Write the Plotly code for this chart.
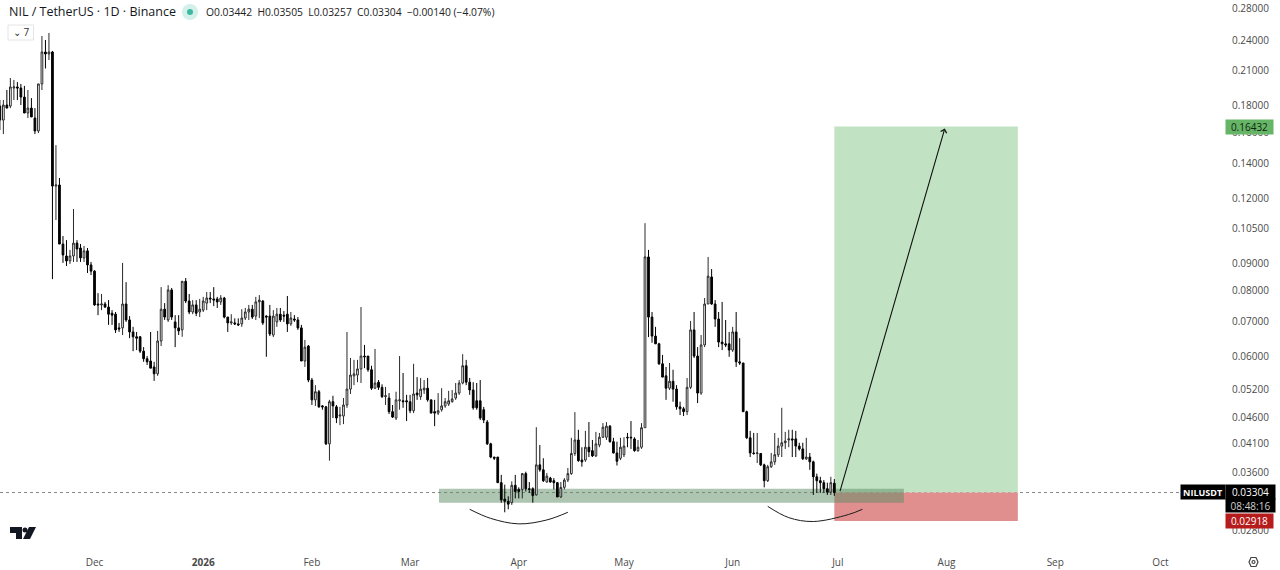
import math
import pandas as pd
import plotly.graph_objects as go

# daily candles, first one is 2025-11-04, last one 2026-06-30
opens = [
    .1798,.1691,.1806,.1798,.1946,.1955,.1946,.1870,.1744,.1782,
    .1706,.1612,.1981,.2279,.2259,.2279,.1266,.1272,.0982,.0932,
    .0912,.0932,.0986,.0965,.0924,.0953,.0896,.0872,.0755,.0752,
    .0755,.0745,.0725,.0722,.0680,.0680,.0755,.0704,.0668,.0654,
    .0654,.0614,.0594,.0588,.0573,.0556,.0642,.0738,.0704,.0803,
    .0698,.0680,.0674,.0834,.0765,.0729,.0752,.0729,.0735,.0758,
    .0775,.0772,.0772,.0762,.0775,.0713,.0695,.0695,.0692,.0692,
    .0710,.0729,.0738,.0716,.0762,.0765,.0716,.0716,.0659,.0698,
    .0722,.0719,.0722,.0692,.0707,.0704,.0680,.0588,.0628,.0541,
    .0496,.0514,.0483,.0481,.0409,.0492,.0481,.0462,.0462,.0485,
    .0520,.0551,.0553,.0568,.0601,.0601,.0566,.0522,.0536,.0524,
    .0503,.0500,.0471,.0458,.0494,.0494,.0494,.0492,.0473,.0511,
    .0503,.0518,.0522,.0496,.0471,.0468,.0475,.0483,.0487,.0492,
    .0500,.0511,.0534,.0576,.0536,.0518,.0494,.0494,.0475,.0450,
    .0409,.0386,.0386,.0345,.0321,.0318,.0316,.0341,.0335,.0335,
    .0359,.0336,.0336,.0327,.0373,.0365,.0346,.0352,.0348,.0345,
    .0324,.0338,.0349,.0359,.0392,.0416,.0381,.0381,.0403,.0397,
    .0388,.0407,.0421,.0421,.0442,.0413,.0393,.0384,.0390,.0421,
    .0421,.0418,.0397,.0403,.0439,.0928,.0713,.0656,.0634,.0581,
    .0551,.0522,.0538,.0520,.0481,.0477,.0471,.0524,.0674,.0601,
    .0511,.0631,.0755,.0850,.0755,.0707,.0639,.0634,.0634,.0617,
    .0668,.0586,.0583,.0471,.0420,.0393,.0392,.0392,.0373,.0348,
    .0370,.0378,.0390,.0405,.0411,.0416,.0418,.0418,.0405,.0400,
    .0383,.0386,.0378,.0354,.0348,.0345,.0336,.0331,.03442,
]
highs = [
    .1846,.1846,.1929,.2033,.2016,.1998,.1981,.1964,.1929,.1862,
    .1782,.1981,.2444,.2402,.2477,.2289,.1515,.1312,.1017,.0999,
    .0957,.1145,.0999,.0982,.0974,.0965,.0908,.0876,.0792,.0789,
    .0762,.0768,.0735,.0729,.0695,.0904,.0831,.0716,.0683,.0668,
    .0656,.0625,.0601,.0668,.0586,.0671,.0813,.0758,.0820,.0810,
    .0719,.0719,.0834,.0846,.0789,.0768,.0768,.0772,.0779,.0796,
    .0796,.0813,.0779,.0785,.0779,.0713,.0722,.0709,.0709,.0738,
    .0742,.0752,.0752,.0779,.0785,.0768,.0719,.0752,.0735,.0742,
    .0742,.0732,.0782,.0729,.0719,.0713,.0689,.0645,.0631,.0546,
    .0529,.0518,.0485,.0483,.0496,.0505,.0485,.0481,.0500,.0668,
    .0596,.0591,.0591,.0745,.0631,.0601,.0576,.0620,.0541,.0531,
    .0525,.0511,.0485,.0514,.0601,.0558,.0507,.0507,.0581,.0548,
    .0546,.0541,.0546,.0496,.0496,.0511,.0522,.0500,.0516,.0518,
    .0534,.0541,.0606,.0591,.0546,.0536,.0534,.0541,.0481,.0454,
    .0411,.0386,.0386,.0357,.0342,.0325,.0347,.0357,.0338,.0360,
    .0362,.0346,.0338,.0440,.0407,.0384,.0360,.0354,.0352,.0346,
    .0346,.0352,.0368,.0420,.0470,.0435,.0403,.0433,.0450,.0416,
    .0431,.0429,.0448,.0450,.0444,.0420,.0413,.0420,.0421,.0429,
    .0452,.0421,.0416,.0448,.1076,.0957,.0729,.0683,.0637,.0604,
    .0573,.0583,.0566,.0529,.0492,.0481,.0546,.0701,.0729,.0625,
    .0659,.0775,.0928,.0880,.0768,.0729,.0762,.0704,.0668,.0683,
    .0729,.0650,.0583,.0473,.0433,.0429,.0429,.0393,.0375,.0373,
    .0393,.0429,.0420,.0479,.0431,.0435,.0435,.0433,.0411,.0411,
    .0420,.0393,.0380,.0359,.0354,.0349,.0345,.0354,.03505,
]
lows = [
    .1619,.1590,.1782,.1782,.1846,.1846,.1806,.1744,.1706,.1714,
    .1590,.1597,.1929,.2120,.2200,.0842,.1091,.0982,.0904,.0892,
    .0900,.0908,.0908,.0908,.0908,.0865,.0857,.0749,.0719,.0735,
    .0742,.0689,.0689,.0665,.0668,.0659,.0698,.0650,.0614,.0617,
    .0609,.0586,.0578,.0570,.0539,.0551,.0628,.0704,.0698,.0704,
    .0625,.0659,.0654,.0758,.0722,.0722,.0716,.0713,.0729,.0735,
    .0758,.0748,.0742,.0752,.0709,.0668,.0689,.0689,.0686,.0683,
    .0704,.0704,.0707,.0704,.0710,.0689,.0599,.0656,.0653,.0683,
    .0698,.0698,.0668,.0686,.0698,.0674,.0588,.0573,.0536,.0485,
    .0483,.0479,.0475,.0407,.0380,.0458,.0448,.0444,.0446,.0479,
    .0509,.0529,.0536,.0534,.0570,.0561,.0518,.0520,.0518,.0500,
    .0485,.0466,.0458,.0454,.0475,.0479,.0452,.0468,.0468,.0496,
    .0496,.0509,.0492,.0468,.0442,.0464,.0471,.0479,.0483,.0490,
    .0496,.0507,.0531,.0529,.0507,.0475,.0475,.0454,.0448,.0407,
    .0384,.0381,.0345,.0316,.0303,.0307,.0313,.0322,.0322,.0322,
    .0332,.0330,.0316,.0326,.0362,.0346,.0345,.0345,.0335,.0324,
    .0323,.0335,.0346,.0357,.0388,.0378,.0370,.0378,.0386,.0386,
    .0386,.0403,.0420,.0416,.0411,.0392,.0372,.0381,.0386,.0403,
    .0400,.0395,.0395,.0400,.0439,.0653,.0637,.0634,.0578,.0548,
    .0496,.0518,.0492,.0475,.0464,.0462,.0464,.0520,.0596,.0489,
    .0507,.0625,.0755,.0752,.0683,.0625,.0617,.0625,.0599,.0612,
    .0573,.0578,.0471,.0418,.0386,.0390,.0376,.0371,.0338,.0346,
    .0368,.0373,.0386,.0386,.0400,.0403,.0386,.0386,.0397,.0381,
    .0381,.0365,.0327,.0330,.0330,.0330,.0327,.0327,.03257,
]
closes = [
    .1691,.1806,.1782,.1955,.1955,.1946,.1870,.1744,.1782,.1714,
    .1612,.1981,.2279,.2259,.2279,.1266,.1272,.0982,.0936,.0912,
    .0932,.0986,.0961,.0924,.0953,.0896,.0872,.0752,.0752,.0755,
    .0745,.0722,.0719,.0674,.0677,.0755,.0704,.0668,.0654,.0650,
    .0614,.0594,.0586,.0570,.0556,.0642,.0738,.0713,.0803,.0713,
    .0680,.0671,.0834,.0765,.0729,.0752,.0725,.0738,.0765,.0775,
    .0772,.0768,.0762,.0775,.0713,.0695,.0698,.0692,.0689,.0710,
    .0729,.0738,.0713,.0762,.0768,.0695,.0713,.0662,.0716,.0722,
    .0704,.0716,.0692,.0710,.0704,.0680,.0588,.0625,.0541,.0496,
    .0514,.0481,.0481,.0409,.0492,.0483,.0458,.0464,.0485,.0520,
    .0553,.0556,.0568,.0601,.0599,.0566,.0522,.0534,.0524,.0503,
    .0505,.0471,.0460,.0496,.0496,.0492,.0492,.0473,.0509,.0507,
    .0520,.0522,.0496,.0468,.0468,.0473,.0483,.0492,.0494,.0498,
    .0511,.0534,.0576,.0536,.0518,.0479,.0479,.0458,.0454,.0409,
    .0386,.0384,.0345,.0320,.0318,.0314,.0341,.0332,.0332,.0359,
    .0336,.0335,.0326,.0373,.0365,.0348,.0355,.0346,.0345,.0324,
    .0338,.0349,.0359,.0392,.0416,.0380,.0378,.0403,.0395,.0388,
    .0409,.0421,.0440,.0442,.0413,.0393,.0379,.0403,.0405,.0420,
    .0420,.0397,.0403,.0439,.0928,.0713,.0656,.0634,.0581,.0548,
    .0522,.0538,.0520,.0481,.0477,.0471,.0524,.0674,.0601,.0511,
    .0631,.0755,.0853,.0755,.0707,.0639,.0634,.0631,.0617,.0668,
    .0586,.0583,.0471,.0420,.0393,.0392,.0393,.0373,.0348,.0370,
    .0378,.0390,.0405,.0411,.0414,.0418,.0416,.0405,.0400,.0383,
    .0386,.0378,.0354,.0348,.0345,.0336,.0331,.0345,.03304,
]
dates = pd.date_range("2025-11-04", periods=len(closes), freq="D")

# axis labels (0.28 sits at the very top edge, plotly drops it there so it gets an annotation)
price_ticks = [0.24, 0.21, 0.18, 0.16, 0.14, 0.12, 0.105, 0.09, 0.08, 0.07,
               0.06, 0.052, 0.046, 0.041, 0.036, 0.028]
top_tick = 0.28
month_ticks = ["2025-12-01", "2026-01-01", "2026-02-01", "2026-03-01", "2026-04-01", "2026-05-01",
               "2026-06-01", "2026-07-01", "2026-08-01", "2026-09-01", "2026-10-01"]
month_labels = ["Dec", "<b>2026</b>", "Feb", "Mar", "Apr", "May", "Jun", "Jul", "Aug", "Sep", "Oct"]

# long position tool
last_close = 0.03304
target = 0.16432
stop = 0.02918
pos_start, pos_end = "2026-06-30", "2026-08-21 08:00"

# support zone
zone_low, zone_high = 0.0316, 0.0336
zone_start, zone_end = "2026-03-09 06:00", "2026-07-19 20:00"

# hand drawn arcs under the lows
arc1_dates = ["2026-03-18", "2026-03-24", "2026-04-01", "2026-04-09", "2026-04-15"]
arc1_prices = [0.0307, 0.0295, 0.0288, 0.0293, 0.0303]
arc2_dates = ["2026-06-11", "2026-06-17", "2026-06-24", "2026-07-04", "2026-07-08"]
arc2_prices = [0.0311, 0.0296, 0.0291, 0.0300, 0.0307]

W, H = 1280, 570
M_R, M_B = 55, 22
PW, PH = W - M_R, H - M_B
AXIS_FONT = dict(family="Open Sans", size=10, color="#4a4a4a")


def px(x):
    return x / PW


def py(y):
    return 1 - y / PH


fig = go.Figure()

fig.add_trace(go.Candlestick(
    x=dates, open=opens, high=highs, low=lows, close=closes,
    increasing=dict(line=dict(color="#2a2a2a", width=1), fillcolor="#ffffff"),
    decreasing=dict(line=dict(color="#000000", width=1), fillcolor="#000000"),
    whiskerwidth=0, hoverinfo="skip", showlegend=False,
))
for ax_, ay_ in [(arc1_dates, arc1_prices), (arc2_dates, arc2_prices)]:
    fig.add_trace(go.Scatter(x=ax_, y=ay_, mode="lines", line=dict(color="#1c1c1c", width=1, shape="spline"),
                             hoverinfo="skip", showlegend=False))

shapes = [
    dict(type="rect", xref="x", yref="y", x0=pos_start, x1=pos_end, y0=last_close, y1=target,
         fillcolor="#c2e3c3", line_width=0, layer="below"),
    dict(type="rect", xref="x", yref="y", x0=pos_start, x1=pos_end, y0=stop, y1=last_close,
         fillcolor="#e08e8e", line_width=0, layer="below"),
    dict(type="rect", xref="x", yref="y", x0=zone_start, x1=zone_end, y0=zone_low, y1=zone_high,
         fillcolor="rgba(92,140,100,0.5)", line_width=0, layer="below"),
    dict(type="line", xref="paper", yref="y", x0=0, x1=1, y0=last_close, y1=last_close,
         line=dict(color="#555555", width=0.7, dash="dot"), layer="below"),
    # status dot next to the legend
    dict(type="circle", xref="paper", yref="paper", x0=px(182), x1=px(198), y0=py(20), y1=py(4),
         fillcolor="#d3f0ea", line_width=0),
    dict(type="circle", xref="paper", yref="paper", x0=px(187), x1=px(193), y0=py(15), y1=py(9),
         fillcolor="#3fb8a0", line_width=0),
    # collapse button
    dict(type="rect", xref="paper", yref="paper", x0=px(8), x1=px(33.5), y0=py(40), y1=py(25),
         fillcolor="#ffffff", line=dict(color="#e4e4e4", width=1)),
    # logo
    dict(type="path", xref="paper", yref="paper", fillcolor="#131722", line_width=0,
         path=f"M {px(10)} {py(527)} H {px(22)} V {py(539)} H {px(16)} V {py(533)} H {px(10)} Z"),
    dict(type="circle", xref="paper", yref="paper", fillcolor="#131722", line_width=0,
         x0=px(22.5), x1=px(27.5), y0=py(532.5), y1=py(527.5)),
    dict(type="path", xref="paper", yref="paper", fillcolor="#131722", line_width=0,
         path=f"M {px(23)} {py(539)} L {px(29)} {py(527)} H {px(36)} L {px(30)} {py(539)} Z"),
    # settings icon
    dict(type="path", xref="paper", yref="paper", line=dict(color="#444444", width=1.2),
         path=f"M {px(1249)} {py(562)} L {px(1251)} {py(557.5)} H {px(1256)} L {px(1258)} {py(562)} "
              f"L {px(1256)} {py(566.5)} H {px(1251)} Z"),
    dict(type="circle", xref="paper", yref="paper", line=dict(color="#444444", width=1.2),
         x0=px(1252), x1=px(1255), y0=py(563.5), y1=py(560.5)),
]

annotations = [
    dict(text="NIL / TetherUS · 1D · Binance", xref="paper", yref="paper", x=px(7), y=py(12),
         xanchor="left", yanchor="middle", showarrow=False,
         font=dict(family="Open Sans", size=12.5, color="#131722")),
    dict(text="O0.03442  H0.03505  L0.03257  C0.03304  −0.00140 (−4.07%)", xref="paper", yref="paper",
         x=px(204), y=py(12), xanchor="left", yanchor="middle", showarrow=False,
         font=dict(family="Open Sans", size=10.3, color="#222222")),
    dict(text="⌄ 7", xref="paper", yref="paper", x=px(21), y=py(32), xanchor="center", yanchor="middle",
         showarrow=False, font=dict(family="Open Sans", size=10, color="#333333")),
    dict(text=f"{top_tick:.5f}", xref="paper", yref="y", x=px(1232), y=math.log10(top_tick),
         xanchor="left", yanchor="middle", showarrow=False, font=AXIS_FONT, borderpad=0, xshift=-1, yshift=-3),
    # arrow up to the target
    dict(x="2026-07-31 12:00", y=math.log10(0.1630), ax="2026-07-01 12:00", ay=math.log10(last_close),
         xref="x", yref="y", axref="x", ayref="y", text="", showarrow=True, arrowhead=4, arrowsize=1.1,
         arrowwidth=1.1, arrowcolor="#111111"),
]


def price_tag(text, y, x, w, h, bg, fg, bold=False, size=10):
    annotations.append(dict(
        text=f"<b>{text}</b>" if bold else text, xref="paper", yref="paper", x=px(x), y=py(y),
        xanchor="left", yanchor="middle", width=w, height=h, align="center", valign="middle",
        showarrow=False, bgcolor=bg, borderpad=0, font=dict(family="Open Sans", size=size, color=fg),
    ))


price_tag("NILUSDT", 492, 1180, 44, 14, "#000000", "#ffffff", bold=True, size=9)
price_tag("0.03304", 492, 1225, 49, 14, "#000000", "#ffffff")
price_tag("08:48:16", 505, 1225, 49, 13, "#000000", "#cfcfcf")
price_tag("0.02918", 520.5, 1225, 47, 14, "#b71c1c", "#ffffff")
price_tag("0.16432", 127, 1225, 47, 14, "#66b566", "#10240f")

fig.update_layout(
    width=W, height=H,
    margin=dict(l=0, r=M_R, t=0, b=M_B, pad=0),
    plot_bgcolor="#ffffff", paper_bgcolor="#ffffff",
    shapes=shapes, annotations=annotations,
    showlegend=False, hovermode=False,
    xaxis=dict(
        type="date", range=["2025-11-04 01:00", "2026-10-19 10:00"], rangeslider=dict(visible=False),
        showgrid=False, zeroline=False, showline=False,
        tickmode="array", tickvals=month_ticks, ticktext=month_labels, ticks="",
        ticklabelstandoff=7, tickfont=AXIS_FONT,
    ),
    yaxis=dict(
        type="log", side="right", range=[math.log10(0.02591), math.log10(0.2862)],
        showgrid=False, zeroline=False, showline=False,
        tickmode="array", tickvals=price_ticks, ticktext=[f"{p:.5f}" for p in price_ticks], ticks="",
        ticklabelstandoff=6, tickfont=AXIS_FONT,
    ),
)

fig.write_html("out.html", config=dict(displayModeBar=False), post_script="document.body.style.margin = '0';")
